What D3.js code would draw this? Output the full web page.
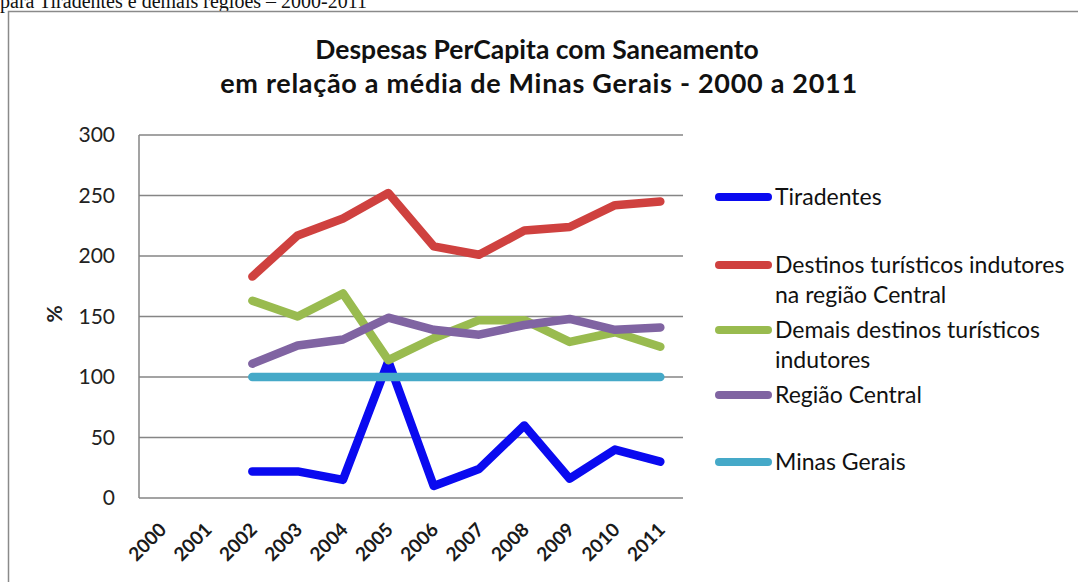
<!DOCTYPE html>
<html>
<head>
<meta charset="utf-8">
<script src="https://cdn.jsdelivr.net/npm/d3@7"></script>
<style>
  html, body { margin: 0; padding: 0; background: #fff; }
  svg { display: block; }
</style>
</head>
<body>
<svg id="chart" width="1078" height="582"></svg>
<script>
// Anos (categorias do eixo X)
const years = ["2000","2001","2002","2003","2004","2005","2006","2007","2008","2009","2010","2011"];

// Despesas per capita com saneamento, % da média de Minas Gerais
const tiradentes      = [null, null, 22, 22, 15, 113, 10, 24, 60, 16, 40, 30];
const destinosCentral = [null, null, 183, 217, 231, 252, 208, 201, 221, 224, 242, 245];
const demaisDestinos  = [null, null, 163, 150, 169, 114, 132, 147, 147, 129, 137, 125];
const regiaoCentral   = [null, null, 111, 126, 131, 149, 139, 135, 143, 148, 139, 141];
const minasGerais     = [null, null, 100, 100, 100, 100, 100, 100, 100, 100, 100, 100];

const yTicks = [0, 50, 100, 150, 200, 250, 300];

const seriesNames = [
  ["Tiradentes"],
  ["Destinos turísticos indutores", "na região Central"],
  ["Demais destinos turísticos", "indutores"],
  ["Região Central"],
  ["Minas Gerais"]
];
const seriesValues = [tiradentes, destinosCentral, demaisDestinos, regiaoCentral, minasGerais];
const seriesColors = ["#0a0af0", "#cf413f", "#99bb4f", "#8064a2", "#45a9c8"];

const svg = d3.select("#chart");
const font = "Lato, 'Open Sans', sans-serif";

// Linha de texto do documento acima do gráfico (cortada na borda)
svg.append("text")
  .attr("x", 0).attr("y", 7.5)
  .attr("font-family", "'Liberation Serif', 'Times New Roman', serif")
  .attr("font-size", 20)
  .attr("fill", "#111")
  .text("para Tiradentes e demais regiões – 2000-2011");

// Moldura do gráfico
svg.append("rect")
  .attr("x", 8.5).attr("y", 11.5)
  .attr("width", 1100).attr("height", 620)
  .attr("fill", "#fff")
  .attr("stroke", "#8a8a8a")
  .attr("stroke-width", 1.5);

// Título
const title = svg.append("text")
  .attr("text-anchor", "middle")
  .attr("font-family", font)
  .attr("font-weight", "bold")
  .attr("fill", "#111");
title.append("tspan").attr("x", 537).attr("y", 59)
  .attr("font-size", 26.5)
  .text("Despesas PerCapita com Saneamento");
title.append("tspan").attr("x", 539).attr("y", 93)
  .attr("font-size", 27)
  .attr("letter-spacing", 0.7)
  .text("em relação a média de Minas Gerais - 2000 a 2011");

// Área de plotagem
const plot = { left: 139, right: 683, top: 135, bottom: 498 };

const x = d3.scaleBand()
  .domain(years)
  .range([plot.left, plot.right]);

const y = d3.scaleLinear()
  .domain([0, 300])
  .range([plot.bottom, plot.top]);

// Linhas de grade
svg.append("g")
  .selectAll("line")
  .data(yTicks)
  .join("line")
  .attr("x1", plot.left).attr("x2", plot.right)
  .attr("y1", d => y(d)).attr("y2", d => y(d))
  .attr("stroke", "#858585")
  .attr("stroke-width", 1.5);

// Eixo vertical
svg.append("line")
  .attr("x1", plot.left).attr("x2", plot.left)
  .attr("y1", plot.top).attr("y2", plot.bottom)
  .attr("stroke", "#858585")
  .attr("stroke-width", 1.5);

// Rótulos do eixo Y
const yAxis = d3.axisLeft(y).tickValues(yTicks).tickSize(0).tickPadding(24);
const gy = svg.append("g")
  .attr("transform", `translate(${plot.left},0)`)
  .call(yAxis);
gy.select(".domain").remove();
gy.selectAll("text")
  .attr("font-family", font)
  .attr("font-size", 21)
  .attr("fill", "#222");

// Título do eixo Y
svg.append("text")
  .attr("transform", `translate(62,314) rotate(-90)`)
  .attr("text-anchor", "middle")
  .attr("font-family", font)
  .attr("font-weight", "bold")
  .attr("font-size", 21)
  .attr("fill", "#222")
  .text("%");

// Rótulos do eixo X (inclinados)
const xAxis = d3.axisBottom(x).tickSize(0).tickPadding(0);
const gx = svg.append("g")
  .attr("transform", `translate(0,${plot.bottom})`)
  .call(xAxis);
gx.select(".domain").remove();
gx.selectAll("text")
  .attr("font-family", font)
  .attr("font-size", 19)
  .attr("font-weight", "bold")
  .attr("fill", "#1a1a1a")
  .attr("text-anchor", "end")
  .attr("dy", null)
  .attr("y", 0)
  .attr("transform", "translate(6,33) rotate(-45)");

// Séries
const line = d3.line()
  .defined(d => d[1] !== null)
  .x(d => x(d[0]) + x.bandwidth() / 2)
  .y(d => y(d[1]));

svg.append("g")
  .selectAll("path")
  .data(seriesValues)
  .join("path")
  .attr("d", vals => line(years.map((yr, i) => [yr, vals[i]])))
  .attr("fill", "none")
  .attr("stroke", (d, i) => seriesColors[i])
  .attr("stroke-width", 8.5)
  .attr("stroke-linecap", "round")
  .attr("stroke-linejoin", "round");

// Legenda
const legendRows = [197, 265, 330, 395, 462];
const legend = svg.append("g");
seriesNames.forEach((lines, i) => {
  const ly = legendRows[i];
  legend.append("line")
    .attr("x1", 719).attr("x2", 768)
    .attr("y1", ly).attr("y2", ly)
    .attr("stroke", seriesColors[i])
    .attr("stroke-width", 8)
    .attr("stroke-linecap", "round");
  const t = legend.append("text")
    .attr("font-family", font)
    .attr("font-size", 23)
    .attr("fill", "#111");
  lines.forEach((s, k) => {
    t.append("tspan")
      .attr("x", 775)
      .attr("y", ly + 8 + k * 30)
      .text(s);
  });
});
</script>
</body>
</html>
